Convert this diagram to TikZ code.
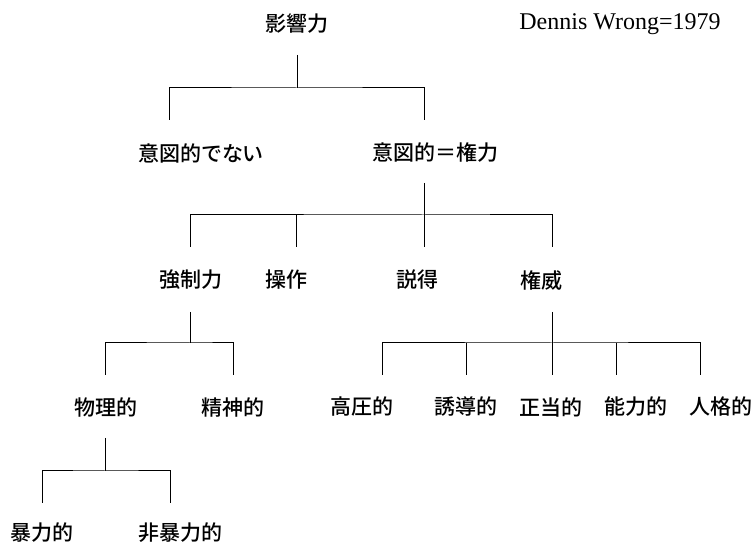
\documentclass[tikz,border=0pt]{standalone}
\usepackage{fontspec}
\setmainfont{Liberation Serif}
\newfontfamily\jpfont{Noto Sans CJK JP Medium}
\usetikzlibrary{calc}

\begin{document}
\begin{tikzpicture}[x=1pt, y=-1pt, line width=1pt]
	\tikzset{
		term/.style={font=\jpfont\fontsize{21}{25}\selectfont, inner sep=0pt},
		source/.style={font=\fontsize{24}{28}\selectfont, inner sep=0pt},
	}
	\useasboundingbox (0,0) rectangle (756,545);

	% labels
	\node[term]	(eikyo)		at (297,24)	{影響力};
	\node[source]	(author)	at (620,24)	{Dennis Wrong=1979};

	\node[term]	(itonai)	at (201,153)	{意図的でない};
	\node[term]	(kenryoku)	at (435,153)	{意図的＝権力};

	\node[term]	(kyosei)	at (191,280)	{強制力};
	\node[term]	(sosa)		at (286,280)	{操作};
	\node[term]	(settoku)	at (417,280)	{説得};
	\node[term]	(keni)		at (541,280)	{権威};

	\node[term]	(butsuri)	at (106,407)	{物理的};
	\node[term]	(seishin)	at (233,407)	{精神的};
	\node[term]	(koatsu)	at (362,407)	{高圧的};
	\node[term]	(yudo)		at (466,407)	{誘導的};
	\node[term]	(seito)		at (551,407)	{正当的};
	\node[term]	(noryoku)	at (636,407)	{能力的};
	\node[term]	(jinkaku)	at (721,407)	{人格的};

	\node[term]	(boryoku)	at (42,533)	{暴力的};
	\node[term]	(hiboryoku)	at (180,533)	{非暴力的};

	% stems and bars
	\coordinate (eikyo-s)	at (297,55);
	\coordinate (eikyo-j)	at (297,88);
	\coordinate (itonai-n)	at (169,120);
	\coordinate (kenryoku-n) at (424,120);
	\draw	(eikyo-s) -- (eikyo-j);
	\draw	(itonai-n) |- (eikyo-j) -| (kenryoku-n);

	\coordinate (kenryoku-s) at (424,183);
	\coordinate (kenryoku-j) at (424,215);
	\coordinate (kyosei-n)	at (190.5,247);
	\coordinate (sosa-n)	at (296.5,247);
	\coordinate (settoku-n)	at (424,247);
	\coordinate (keni-n)	at (552,247);
	\draw	(kenryoku-s) -- (settoku-n);
	\draw	(kyosei-n) |- (kenryoku-j) -| (keni-n);
	\draw	(sosa-n) -- (sosa-n |- kenryoku-j);

	\coordinate (kyosei-s)	at (190.5,312);
	\coordinate (kyosei-j)	at (190.5,343);
	\coordinate (butsuri-n)	at (105,375);
	\coordinate (seishin-n)	at (233,375);
	\draw	(kyosei-s) -- (kyosei-j);
	\draw	(butsuri-n) |- (kyosei-j) -| (seishin-n);

	\coordinate (keni-s)	at (552,312);
	\coordinate (keni-j)	at (552,343);
	\coordinate (koatsu-n)	at (382,375);
	\coordinate (yudo-n)	at (466,375);
	\coordinate (seito-n)	at (552,375);
	\coordinate (noryoku-n)	at (616,375);
	\coordinate (jinkaku-n)	at (700.5,375);
	\draw	(keni-s) -- (seito-n);
	\draw	(koatsu-n) |- (keni-j) -| (jinkaku-n);
	\foreach \child in {yudo, noryoku}
		\draw	(\child-n) -- (\child-n |- keni-j);

	\coordinate (butsuri-s)	at (105,438);
	\coordinate (butsuri-j)	at (105,471);
	\coordinate (boryoku-n)	at (42,503);
	\coordinate (hiboryoku-n) at (170,503);
	\draw	(butsuri-s) -- (butsuri-j);
	\draw	(boryoku-n) |- (butsuri-j) -| (hiboryoku-n);
\end{tikzpicture}
\end{document}
